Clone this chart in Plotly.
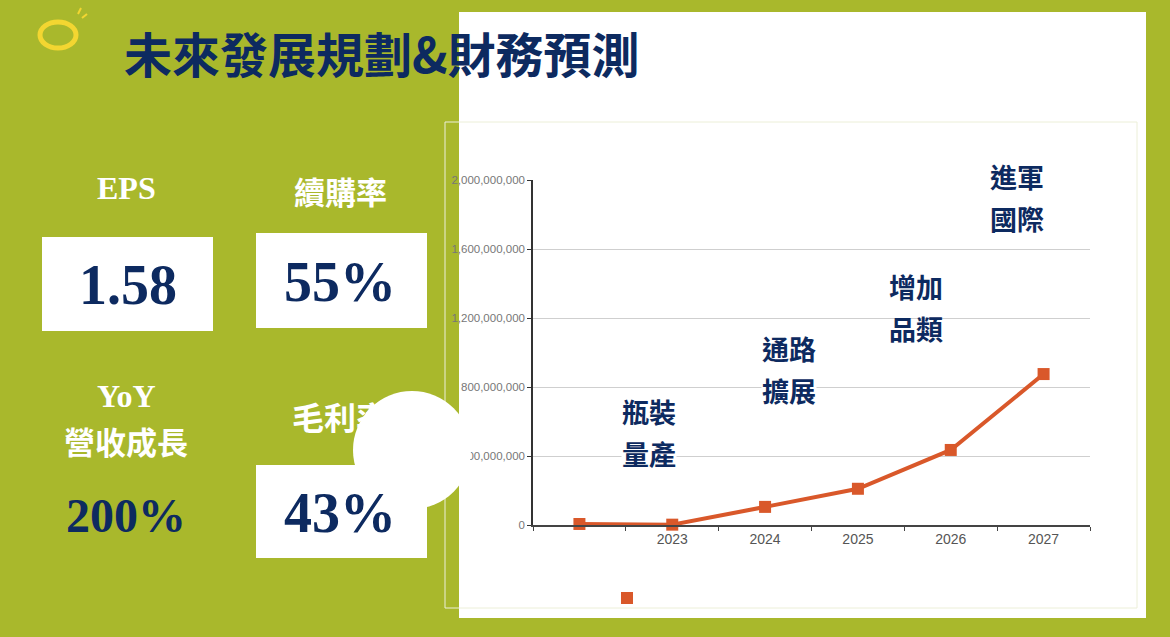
import plotly.graph_objects as go

# revenue forecast (NT$)
years = [" ", "2023", "2024", "2025", "2026", "2027"]
revenue = [6e6, 2e6, 105e6, 210e6, 435e6, 875e6]
y_ticks = [0, 400e6, 800e6, 1200e6, 1600e6, 2000e6]

# milestone labels over the chart, two lines each
milestones = [("瓶裝", "量產"), ("通路", "擴展"), ("增加", "品類"), ("進軍", "國際")]

# left panel figures
kpi_titles = ["EPS", "續購率", "YoY", "營收成長", "毛利率"]
kpi_values = ["1.58", "55%", "200%", "43%"]

GREEN = "#A9B82C"
NAVY = "#0D2A60"
ORANGE = "#D9582A"
CJK = "Noto Sans CJK TC"
SERIF = "Liberation Serif"
W, H = 1170, 637
L, R, T, B = 533, 1090, 180, 525


def px(x):
    return (x - L) / (R - L)


def py(y):
    return (B - y) / (B - T)


def rect(x0, y0, x1, y1, fill="white", line=None, layer="below"):
    return dict(type="rect", xref="paper", yref="paper",
                x0=px(x0), x1=px(x1), y0=py(y1), y1=py(y0),
                fillcolor=fill, line=line or dict(width=0), layer=layer)


fig = go.Figure()
fig.add_trace(go.Scatter(
    x=years, y=revenue, mode="lines+markers",
    line=dict(color=ORANGE, width=4),
    marker=dict(symbol="square", size=12, color=ORANGE),
    showlegend=False, cliponaxis=False))
# legend entry is just the square
fig.add_trace(go.Scatter(
    x=[None], y=[None], mode="markers", name=" ",
    marker=dict(symbol="square", size=12, color=ORANGE)))

shapes = [
    rect(459, 12, 1146, 618),
    rect(445, 122, 1137, 608, fill="rgba(0,0,0,0)", line=dict(color="#ECEFD8", width=1)),
    rect(42, 237, 213, 331),
    rect(256, 233, 427, 328),
    rect(256, 465, 427, 558),
    # logo swirl
    dict(type="circle", xref="paper", yref="paper",
         x0=px(40), x1=px(76), y0=py(48), y1=py(22),
         line=dict(color="#F3D631", width=5), layer="below"),
    dict(type="line", xref="paper", yref="paper",
         x0=px(78), x1=px(81), y0=py(14), y1=py(8),
         line=dict(color="#F3D631", width=2), layer="below"),
    dict(type="line", xref="paper", yref="paper",
         x0=px(82), x1=px(87), y0=py(18), y1=py(14),
         line=dict(color="#F3D631", width=2), layer="below"),
    # 毛利率 title sits under the white circle
    dict(type="rect", xref="paper", yref="paper",
         x0=px(288), x1=px(392), y0=py(438), y1=py(404),
         fillcolor="rgba(0,0,0,0)", line=dict(width=0), layer="above",
         label=dict(text=kpi_titles[4], textposition="middle center",
                    font=dict(family=CJK, size=32, color="white", weight="bold"))),
    dict(type="circle", xref="paper", yref="paper",
         x0=px(353), x1=px(471), y0=py(509), y1=py(391),
         fillcolor="white", line=dict(width=0), layer="above"),
]

ann = []


def text(x, y, s, size, color, family, bg=None):
    ann.append(dict(x=px(x), y=py(y), xref="paper", yref="paper", text=s,
                    showarrow=False, xanchor="center", yanchor="middle",
                    bgcolor=bg, borderpad=0,
                    font=dict(family=family, size=size, color=color, weight="bold")))


text(382, 52, "未來發展規劃&財務預測", 48, NAVY, CJK)
text(126, 188, kpi_titles[0], 32, "white", SERIF)
text(340, 190, kpi_titles[1], 31, "white", CJK)
text(126, 396, kpi_titles[2], 32, "white", SERIF)
text(126, 440, kpi_titles[3], 31, "white", CJK)
text(128, 285, kpi_values[0], 56, NAVY, SERIF)
text(340, 282, kpi_values[1], 56, NAVY, SERIF)
text(126, 515, kpi_values[2], 48, NAVY, SERIF)
text(340, 513, kpi_values[3], 56, NAVY, SERIF)

spots = [(649, 411, "white"), (789, 348, "white"), (916, 286, None), (1017, 176, None)]
for (top, bottom), (x, y, bg) in zip(milestones, spots):
    text(x, y, top, 27, NAVY, CJK, bg)
    text(x, y + 42, bottom, 27, NAVY, CJK, bg)

fig.update_layout(
    width=W, height=H,
    margin=dict(l=L, r=W - R, t=T, b=H - B, autoexpand=False),
    paper_bgcolor=GREEN, plot_bgcolor="white",
    shapes=shapes, annotations=ann,
    legend=dict(x=px(607), y=py(598), xanchor="left", yanchor="middle",
                bgcolor="rgba(0,0,0,0)", font=dict(size=10)),
    xaxis=dict(type="category", range=[-0.5, 5.5], showgrid=False,
               showline=True, linecolor="#444", linewidth=2,
               ticks="outside", tickson="boundaries", ticklen=4, tickcolor="#444",
               tickfont=dict(family="Liberation Sans", size=14, color="#555")),
    yaxis=dict(range=[0, 2e9], tickvals=y_ticks, tickformat=",",
               showline=True, linecolor="#333", linewidth=1.5,
               ticks="outside", ticklen=4, tickcolor="#333",
               gridcolor="#CFCFCF", zeroline=False,
               tickfont=dict(family="Liberation Sans", size=11.5, color="#777")),
)

# drop the page's default body margin so the slide fills the window
fig.write_html("out.html", config={"displayModeBar": False},
               post_script="document.body.style.margin='0';")
